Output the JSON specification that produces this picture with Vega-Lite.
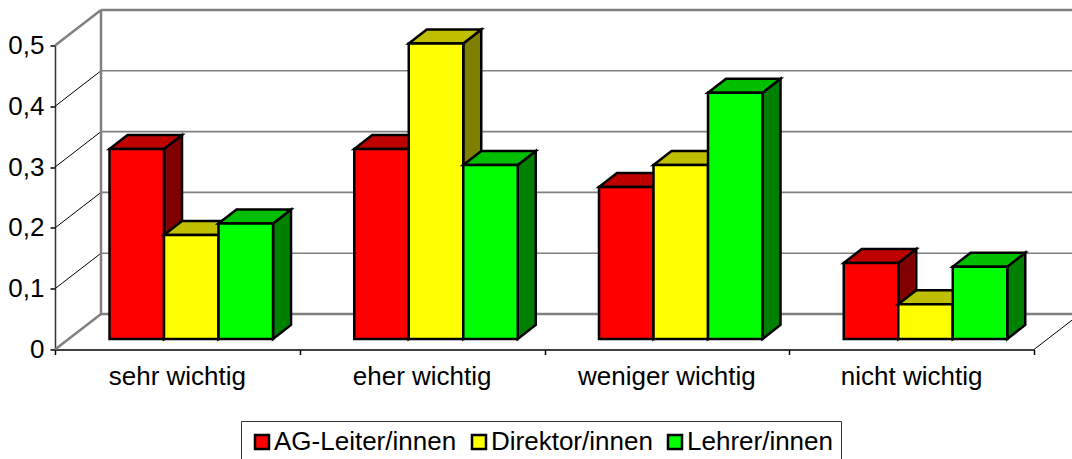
{
"$schema":"https://vega.github.io/schema/vega-lite/v6.json",
"width":979,"height":304,"autosize":{"type":"none"},
"padding":{"left":55,"top":45.5,"right":38,"bottom":109.5},
"background":"white",
"config":{"view":{"stroke":null},"font":"Liberation Sans"},
"datasets":{
"bars":[
{"cat":"sehr wichtig","series":"AG-Leiter/innen","value":0.3125},
{"cat":"sehr wichtig","series":"Direktor/innen","value":0.171},
{"cat":"sehr wichtig","series":"Lehrer/innen","value":0.19},
{"cat":"eher wichtig","series":"AG-Leiter/innen","value":0.3125},
{"cat":"eher wichtig","series":"Direktor/innen","value":0.486},
{"cat":"eher wichtig","series":"Lehrer/innen","value":0.286},
{"cat":"weniger wichtig","series":"AG-Leiter/innen","value":0.25},
{"cat":"weniger wichtig","series":"Direktor/innen","value":0.286},
{"cat":"weniger wichtig","series":"Lehrer/innen","value":0.405},
{"cat":"nicht wichtig","series":"AG-Leiter/innen","value":0.125},
{"cat":"nicht wichtig","series":"Direktor/innen","value":0.057},
{"cat":"nicht wichtig","series":"Lehrer/innen","value":0.119}
],
"walls":[{"v":0},{"v":0.1},{"v":0.2},{"v":0.3},{"v":0.4},{"v":0.5}],
"cats":[{"cat":"sehr wichtig","p":0.5},{"cat":"eher wichtig","p":1.5},{"cat":"weniger wichtig","p":2.5},{"cat":"nicht wichtig","p":3.5}]
},
"layer":[
{"data":{"name":"walls"},
 "transform":[{"calculate":"datum.v+0.0584","as":"vb"}],
 "mark":{"type":"rule"},
 "encoding":{
  "x":{"datum":0.188,"type":"quantitative","scale":{"domain":[0,4],"nice":false,"zero":false},
   "axis":{"values":[0,1,2,3,4],"labels":false,"title":null,"grid":false,"domainColor":"black","tickColor":"black","tickSize":5,"domainWidth":1.5,"tickWidth":1.5}},
  "x2":{"datum":4.2},
  "y":{"field":"vb","type":"quantitative","scale":{"domain":[0,0.5],"nice":false,"zero":false},
   "axis":{"values":[0,0.1,0.2,0.3,0.4,0.5],"title":null,"grid":false,"labelExpr":"replace(format(datum.value,'.1~f'),'.',',')","labelFontSize":26,"labelColor":"black","labelPadding":6,"domainColor":"#333333","tickColor":"black","tickSize":5,"domainWidth":1.5,"tickWidth":1.5}},
  "stroke":{"value":"#808080"},
  "strokeWidth":{"condition":{"test":"datum.v==0||datum.v==0.5","value":2.5},"value":1.6}
 }},
{"data":{"name":"walls"},
 "transform":[{"calculate":"datum.v+0.0584","as":"vb"}],
 "mark":{"type":"rule"},
 "encoding":{
  "x":{"datum":0,"type":"quantitative"},
  "x2":{"datum":0.188},
  "y":{"field":"v","type":"quantitative"},
  "y2":{"field":"vb"},
  "stroke":{"condition":{"test":"datum.v==0||datum.v==0.5","value":"#808080"},"value":"black"},
  "strokeWidth":{"condition":{"test":"datum.v==0||datum.v==0.5","value":2.5},"value":1}
 }},
{"mark":{"type":"rule","stroke":"#808080","strokeWidth":2.5},
 "data":{"values":[{"a":1}]},
 "encoding":{"x":{"datum":0.188,"type":"quantitative"},"y":{"datum":0.0584,"type":"quantitative"},"y2":{"datum":0.5584}}},
{"mark":{"type":"rule","stroke":"black","strokeWidth":1},
 "data":{"values":[{"a":1}]},
 "encoding":{"x":{"datum":4,"type":"quantitative"},"x2":{"datum":4.188},"y":{"datum":0,"type":"quantitative"},"y2":{"datum":0.0584}}},
{"data":{"name":"bars"},
 "transform":[
  {"calculate":"indexof(['sehr wichtig','eher wichtig','weniger wichtig','nicht wichtig'],datum.cat)","as":"g"},
  {"calculate":"indexof(['AG-Leiter/innen','Direktor/innen','Lehrer/innen'],datum.series)","as":"s"},
  {"calculate":"datum.g+0.2227+datum.s*0.2227","as":"x0"},
  {"calculate":"datum.x0+0.2227","as":"x1"},
  {"calculate":"0.0173+datum.value","as":"t"},
  {"calculate":"['side','top','front']","as":"face"},
  {"flatten":["face"]},
  {"calculate":"[0,1,2,3]","as":"vx"},
  {"flatten":["vx"]},
  {"filter":"datum.face=='top'||datum.vx<2"},
  {"calculate":"datum.face=='front'?(datum.vx==0?datum.x0:datum.x1):datum.face=='side'?(datum.vx==0?datum.x1:datum.x1+0.0735):[datum.x0,datum.x0+0.0735,datum.x1,datum.x1+0.0735][datum.vx]","as":"px"},
  {"calculate":"datum.face=='front'?datum.t:datum.face=='side'?(datum.vx==0?datum.t:datum.t+0.023):(datum.vx==0?datum.t:datum.t+0.023)","as":"py"},
  {"calculate":"datum.face=='front'?0.0173:datum.face=='side'?(datum.vx==0?0.0173:0.0403):(datum.vx==3?datum.t+0.023:datum.t)","as":"py2"},
  {"calculate":"datum.face=='front'?datum.series:datum.series+'|'+datum.face","as":"fk"},
  {"calculate":"datum.cat+'|'+datum.series+'|'+datum.face","as":"id"}
 ],
 "mark":{"type":"area","stroke":"black","strokeWidth":2.5,"strokeJoin":"miter","opacity":1},
 "encoding":{
  "x":{"field":"px","type":"quantitative"},
  "y":{"field":"py","type":"quantitative"},
  "y2":{"field":"py2"},
  "detail":{"field":"id"},
  "fill":{"field":"fk","type":"nominal",
   "scale":{"domain":["AG-Leiter/innen","Direktor/innen","Lehrer/innen","AG-Leiter/innen|top","Direktor/innen|top","Lehrer/innen|top","AG-Leiter/innen|side","Direktor/innen|side","Lehrer/innen|side"],
    "range":["#ff0000","#ffff00","#00ff00","#bf0000","#bfbf00","#00bf00","#800000","#808000","#008000"]},
   "legend":{"values":["AG-Leiter/innen","Direktor/innen","Lehrer/innen"],"title":null,"orient":"none","legendX":186,"legendY":375.5,"direction":"horizontal","columns":3,"symbolType":"square","symbolSize":196,"symbolStrokeColor":"black","symbolStrokeWidth":2.5,"symbolOpacity":1,"labelFontSize":26,"labelColor":"black","labelOffset":-1,"labelLimit":300,"columnPadding":9,"strokeColor":"#333333","padding":8,"fillColor":"white"}}
 }},
{"data":{"name":"cats"},
 "mark":{"type":"text","fontSize":26,"color":"black","baseline":"middle","align":"center"},
 "encoding":{"x":{"field":"p","type":"quantitative"},"y":{"datum":-0.045,"type":"quantitative"},"text":{"field":"cat"}}}
]
}
